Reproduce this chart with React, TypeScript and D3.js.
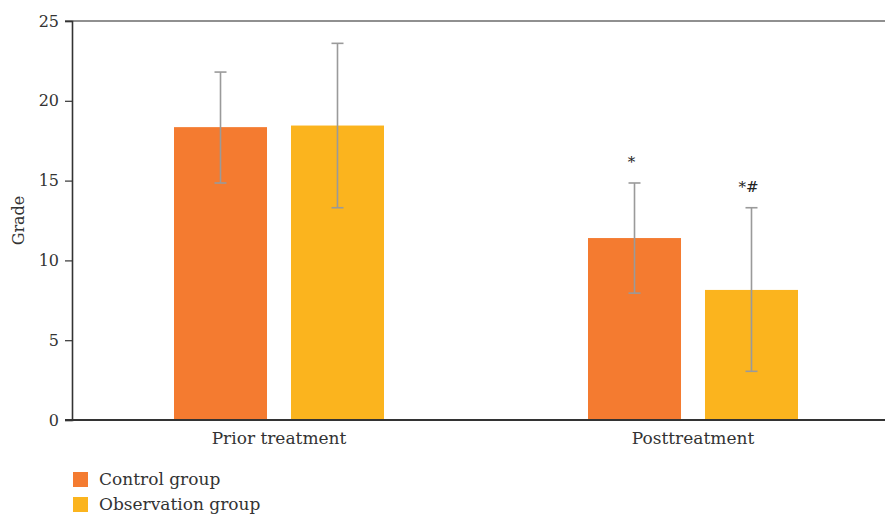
import { useRef, useEffect } from "react";
import * as d3 from "d3";

const phases = ["Prior treatment", "Posttreatment"];
const groups = ["Control group", "Observation group"];
const means = [
    [18.35, 18.45],
    [11.4, 8.15],
];
const errLow = [
    [14.85, 13.3],
    [7.95, 3.05],
];
const errHigh = [
    [21.8, 23.6],
    [14.85, 13.3],
];
const marks = [
    ["", ""],
    ["*", "*#"],
];
const yTicks = [0, 5, 10, 15, 20, 25];
const colors = ["#F47B30", "#FBB41E"];

export default function App() {
    const ref = useRef<SVGSVGElement>(null);

    useEffect(() => {
        if (!ref.current) return;
        const width = 885;
        const height = 520;
        const marginLeft = 72;
        const axisRight = 885;
        const marginTop = 21;
        const plotBottom = 420;
        const font = "DejaVu Serif";

        const svg = d3.select(ref.current);
        svg.selectAll("*").remove();
        svg.attr("width", width).attr("height", height);

        // Scales
        const x = d3.scaleBand<string>().domain(phases).range([marginLeft, 900]).padding(0);
        const xi = d3.scaleBand<string>().domain(groups).range([-105, 105]).paddingInner(0.205);
        const y = d3.scaleLinear().domain([0, 25]).range([plotBottom, marginTop]);

        // top frame line
        svg.append("line")
            .attr("x1", marginLeft - 7).attr("x2", axisRight)
            .attr("y1", y(25)).attr("y2", y(25))
            .attr("stroke", "#6b6b6b").attr("stroke-width", 1.6);

        // bars
        phases.forEach((p, pi) => {
            const cx = x(p)! + x.bandwidth() / 2;
            groups.forEach((g, gi) => {
                const bx = cx + xi(g)!;
                svg.append("rect")
                    .attr("x", bx).attr("width", xi.bandwidth())
                    .attr("y", y(means[pi][gi]))
                    .attr("height", y(0) - y(means[pi][gi]))
                    .attr("fill", colors[gi]);
                const ex = bx + xi.bandwidth() / 2;
                const eg = svg.append("g").attr("stroke", "#9a9a9a").attr("stroke-width", 1.6);
                eg.append("line").attr("x1", ex).attr("x2", ex)
                    .attr("y1", y(errHigh[pi][gi])).attr("y2", y(errLow[pi][gi]));
                [errHigh[pi][gi], errLow[pi][gi]].forEach((v) => {
                    eg.append("line").attr("x1", ex - 6).attr("x2", ex + 6)
                        .attr("y1", y(v)).attr("y2", y(v));
                });
                if (marks[pi][gi]) {
                    svg.append("text")
                        .attr("x", ex - 3).attr("y", y(errHigh[pi][gi]) - 16)
                        .attr("text-anchor", "middle")
                        .style("font-family", font).style("font-size", "15px")
                        .attr("fill", "#222")
                        .text(marks[pi][gi]);
                }
            });
        });

        // y axis
        const yAxis = svg.append("g")
            .attr("transform", `translate(${marginLeft},0)`)
            .call(d3.axisLeft(y).tickValues(yTicks).tickSize(7).tickPadding(6));
        yAxis.attr("font-family", null).attr("font-size", null);
        yAxis.select(".domain").attr("stroke", "#333").attr("stroke-width", 1.6);
        yAxis.selectAll(".tick line").attr("stroke", "#333").attr("stroke-width", 1.2);
        yAxis.selectAll(".tick text")
            .style("font-family", font).style("font-size", "16px").attr("fill", "#333");

        // x axis line
        svg.append("line")
            .attr("x1", marginLeft - 7).attr("x2", axisRight)
            .attr("y1", y(0)).attr("y2", y(0))
            .attr("stroke", "#333").attr("stroke-width", 1.8);

        // category labels
        phases.forEach((p) => {
            svg.append("text")
                .attr("x", x(p)! + x.bandwidth() / 2)
                .attr("y", 444)
                .attr("text-anchor", "middle")
                .style("font-family", font).style("font-size", "17px").attr("fill", "#333")
                .text(p);
        });

        // y label
        svg.append("text")
            .attr("transform", `translate(24,${(y(0) + y(25)) / 2}) rotate(-90)`)
            .attr("text-anchor", "middle")
            .style("font-family", font).style("font-size", "16px").attr("fill", "#333")
            .text("Grade");

        // legend
        groups.forEach((g, gi) => {
            const ly = 472 + gi * 25;
            svg.append("rect")
                .attr("x", 73).attr("y", ly).attr("width", 15).attr("height", 15)
                .attr("fill", colors[gi]);
            svg.append("text")
                .attr("x", 99).attr("y", ly + 13)
                .style("font-family", font).style("font-size", "17px").attr("fill", "#333")
                .text(g);
        });
    }, []);

    return (
        <svg ref={ref} style={{ position: "absolute", left: 0, top: 0 }}></svg>
    );
}
